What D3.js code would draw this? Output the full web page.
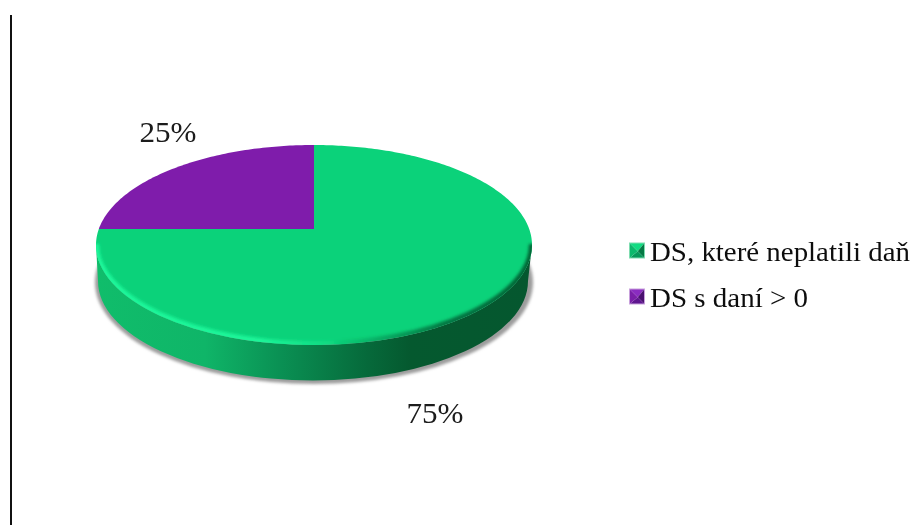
<!DOCTYPE html>
<html><head><meta charset="utf-8">
<script src="https://cdn.jsdelivr.net/npm/d3@7"></script>
<style>html,body{margin:0;padding:0;background:#fff}svg{display:block}</style>
</head><body><div id="c"></div>
<script>
const categories = ["DS, které neplatili daň", "DS s daní > 0"];
const values = [75, 25];
const percentLabels = ["75%", "25%"];
const topColors = ["#0bd27a", "#7f1cab"];

const W = 915, H = 525;
const svg = d3.select("#c").append("svg").attr("width", W).attr("height", H);
const defs = svg.append("defs");
const F = "'Liberation Serif','Times New Roman',serif";

const blur = (id, s) => defs.append("filter").attr("id", id)
  .attr("x", "-10%").attr("y", "-10%").attr("width", "120%").attr("height", "120%")
  .append("feGaussianBlur").attr("stdDeviation", s);
blur("b3", 1.8); blur("b1", 1.5); blur("bt", 0.4);

const grad = (id, x1, x2, stops) => {
  const g = defs.append("linearGradient").attr("id", id).attr("gradientUnits", "userSpaceOnUse")
    .attr("x1", x1).attr("x2", x2).attr("y1", 0).attr("y2", 0);
  stops.forEach(([o, c, a]) => g.append("stop").attr("offset", o).attr("stop-color", c).attr("stop-opacity", a ?? 1));
};
grad("side", 96, 532, [[0, "#10bd6b"], [0.25, "#0fb568"], [0.42, "#0a9154"], [0.62, "#066a3b"], [0.72, "#05592f"], [1, "#05572f"]]);
grad("rim", 96, 532, [[0, "#1cf79a", 1], [0.38, "#1cf79a", 0.95], [0.54, "#1cf79a", 0.2], [0.58, "#05592f", 0.1], [0.8, "#05592f", 0.75], [1, "#05592f", 0.9]]);

// left rule
svg.append("line").attr("x1", 11).attr("x2", 11).attr("y1", 15).attr("y2", H)
  .attr("stroke", "#111").attr("stroke-width", 2);

// top-face ellipse, with the slices' apex offset by the perspective
const cx = 314, cy = 245, rx = 218, ry = 100, apexY = 229, depth = 36;

function rayPoint(a) {
  const dx = Math.sin(a), dy = -Math.cos(a), oy = (apexY - cy) / ry;
  const b = oy * dy, c = oy * oy - 1;
  const t = -b + Math.sqrt(b * b - c);
  return [cx + rx * t * dx, cy + ry * (oy + t * dy)];
}
const pie = d3.pie().sort(null)(values);

// drop shadow and side wall
svg.append("ellipse").attr("cx", cx).attr("cy", cy + depth + 1.5).attr("rx", rx + 1).attr("ry", ry + 1.5)
  .attr("fill", "#9c9c9c").attr("filter", "url(#b3)");
svg.append("path")
  .attr("d", `M${cx - rx},${cy} A${rx},${ry} 0 0 0 ${cx + rx},${cy} L${cx + rx - 4},${cy + depth} A${rx - 4},${ry - 1} 0 0 1 ${cx - rx + 2},${cy + depth} Z`)
  .attr("fill", "url(#side)");

// top faces
const lineGen = d3.line();
const facePath = d => {
  const n = Math.ceil((d.endAngle - d.startAngle) * 60);
  const pts = d3.range(n + 1).map(i => rayPoint(d.startAngle + (d.endAngle - d.startAngle) * i / n));
  return lineGen([[cx, apexY], ...pts]) + "Z";
};
defs.append("clipPath").attr("id", "faceClip").append("ellipse")
  .attr("cx", cx).attr("cy", cy).attr("rx", rx).attr("ry", ry);
svg.append("g").selectAll("path").data(pie).join("path")
  .attr("d", facePath).attr("fill", (d, i) => topColors[i]);

// bevel along the lower rim of the top face
svg.append("g").attr("clip-path", "url(#faceClip)").append("path")
  .attr("d", `M${cx - rx},${cy - 1} A${rx},${ry} 0 0 0 ${cx + rx},${cy - 1}`)
  .attr("fill", "none").attr("stroke", "url(#rim)").attr("stroke-width", 6).attr("filter", "url(#b1)");

// percent labels
const labelPos = [[435, 423, 57], [168, 142, 57]];
svg.append("g").selectAll("text").data(percentLabels).join("text")
  .attr("x", (d, i) => labelPos[i][0]).attr("y", (d, i) => labelPos[i][1])
  .attr("text-anchor", "middle").attr("font-family", F).attr("font-size", 29).attr("fill", "#1a1a1a")
  .attr("textLength", (d, i) => labelPos[i][2]).attr("lengthAdjust", "spacingAndGlyphs")
  .attr("filter", "url(#bt)").text(d => d);

// legend
const legendY = d3.scalePoint().domain(categories).range([261, 307]);
const legendW = [260, 158];
const markerTones = [
  { t: "#12dc82", r: "#057a45", b: "#07985a", l: "#0cb86c", o: "#7fdcb0" },
  { t: "#8a2cc0", r: "#4a1070", b: "#5f1690", l: "#7a1fa8", o: "#c8a0dc" }
];
const lg = svg.append("g").selectAll("g").data(categories).join("g");
lg.append("text").attr("x", 650).attr("y", d => legendY(d))
  .attr("font-family", F).attr("font-size", 28).attr("fill", "#111")
  .attr("textLength", (d, i) => legendW[i]).attr("lengthAdjust", "spacingAndGlyphs")
  .attr("filter", "url(#bt)").text(d => d);
lg.each(function (d, i) {
  const g = d3.select(this), y = legendY(d) - 18, x = 629.5, s = 15, m = markerTones[i];
  const mid = [x + s * 0.55, y + s * 0.55];
  const tri = (a, b, c) => g.append("path").attr("d", lineGen([a, b, mid]) + "Z").attr("fill", c);
  tri([x, y], [x + s, y], m.t);
  tri([x + s, y], [x + s, y + s], m.r);
  tri([x + s, y + s], [x, y + s], m.b);
  tri([x, y + s], [x, y], m.l);
  g.append("rect").attr("x", x).attr("y", y).attr("width", s).attr("height", s)
    .attr("fill", "none").attr("stroke", m.o).attr("stroke-width", 1);
});
</script></body></html>
